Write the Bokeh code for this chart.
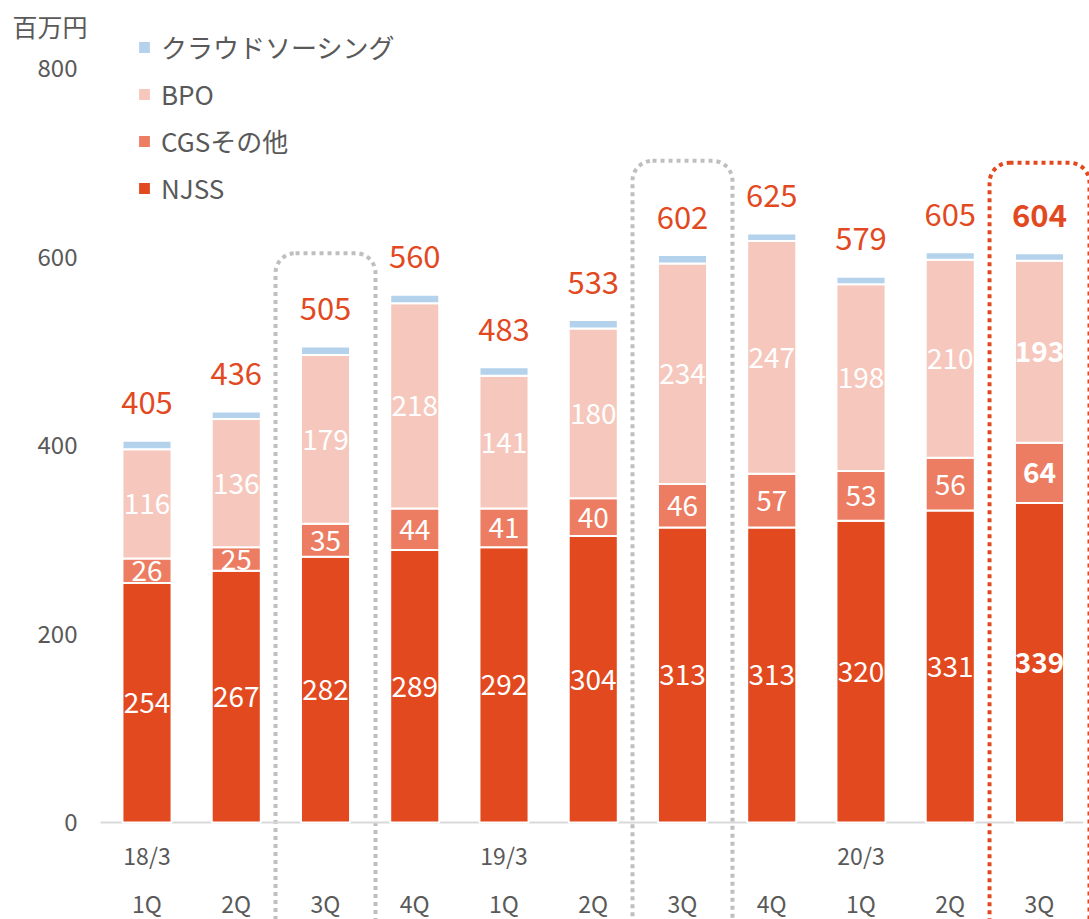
from bokeh.plotting import figure
from bokeh.models import ColumnDataSource, Range1d, FixedTicker, Legend, LegendItem
from bokeh.core.properties import value
from bokeh.embed import file_html
from bokeh.resources import INLINE

# ---- data ----
quarters = ["1Q", "2Q", "3Q", "4Q", "1Q", "2Q", "3Q", "4Q", "1Q", "2Q", "3Q"]
years = ["18/3", "", "", "", "19/3", "", "", "", "20/3", "", ""]
njss = [254, 267, 282, 289, 292, 304, 313, 313, 320, 331, 339]
cgs = [26, 25, 35, 44, 41, 40, 46, 57, 53, 56, 64]
bpo = [116, 136, 179, 218, 141, 180, 234, 247, 198, 210, 193]
crowd = [9, 8, 9, 9, 9, 9, 9, 8, 8, 8, 8]
totals = [405, 436, 505, 560, 483, 533, 602, 625, 579, 605, 604]
series_keys = ["njss", "cgs", "bpo", "crowd"]
series_names = ["NJSS", "CGSその他", "BPO", "クラウドソーシング"]
colors = ["#E2491F", "#EC7D62", "#F6C8BD", "#B4D2EC"]
yticks = [0, 200, 400, 600, 800]
unit_label = "百万円"
highlight_idx = [2, 6, 10]
highlight_top = [604, 702, 700]
highlight_color = ["#BFBFBF", "#BFBFBF", "#E2491F"]

FONT = "Noto Sans CJK JP"
GRAY = "#595959"
RED = "#E2491F"

n = len(quarters)
xs = list(range(n))
bold = ["bold" if i == n - 1 else "normal" for i in xs]

W, H = 1089, 919
PITCH = 89.25            # px per category
X0 = -1.6415             # data x at left canvas edge
X1 = X0 + W / PITCH
AXIS_X = -0.521          # where the value axis / baseline start
Y1 = 872.1
Y0 = Y1 - H / 0.9425

src = ColumnDataSource(dict(x=xs, njss=njss, cgs=cgs, bpo=bpo, crowd=crowd,
                            totals=totals, tot_txt=[str(t) for t in totals],
                            q=quarters, yr=years, style=bold, zero=[0] * n))

p = figure(width=W, height=H, output_backend="svg", toolbar_location=None,
           x_range=Range1d(X0, X1), y_range=Range1d(Y0, Y1),
           min_border_left=0, min_border_right=0, min_border_top=0, min_border_bottom=0)
p.outline_line_color = None
p.grid.visible = False
p.xaxis.visible = False
p.background_fill_color = "white"
p.border_fill_color = "white"

ya = p.yaxis[0]
ya.fixed_location = AXIS_X
ya.ticker = FixedTicker(ticks=yticks)
ya.axis_line_color = None
ya.major_tick_line_color = None
ya.minor_tick_line_color = None
ya.major_tick_out = 0
ya.major_tick_in = 0
ya.major_label_standoff = 23
ya.major_label_text_font = FONT
ya.major_label_text_font_size = "24px"
ya.major_label_text_color = GRAY

# highlight boxes (dotted rounded)
for i, top, c in zip(highlight_idx, highlight_top, highlight_color):
    p.quad(left=i - 0.56, right=i + 0.56, top=top, bottom=Y0 - 100, fill_color=None,
           line_color=c, line_width=4, line_dash="4 4", border_radius=20)

# baseline
p.segment(x0=[AXIS_X], x1=[X1 - 0.07], y0=[0], y1=[0], line_color="#D9D9D9", line_width=2)

# stacked bars
rs = p.vbar_stack(series_keys, x="x", width=0.55, color=colors, line_color="white",
                  line_width=2, source=src)

# segment labels
bottoms = [0] * n
for vals in (njss, cgs, bpo):
    centers = [b + v / 2 for b, v in zip(bottoms, vals)]
    s = ColumnDataSource(dict(x=xs, y=centers, t=[str(v) for v in vals], style=bold))
    p.text(x="x", y="y", text="t", source=s, text_color="white", text_font=value(FONT),
           text_font_size="28px", text_align="center", text_baseline="middle",
           text_font_style="style")
    bottoms = [b + v for b, v in zip(bottoms, vals)]

# totals
p.text(x="x", y="totals", text="tot_txt", source=src, y_offset=-38, text_color=RED,
       text_font=value(FONT), text_font_size="31px", text_align="center",
       text_baseline="middle", text_font_style="style")

# category labels
p.text(x="x", y="zero", text="yr", source=src, y_offset=33, text_color=GRAY,
       text_font=value(FONT), text_font_size="23px", text_align="center",
       text_baseline="middle")
p.text(x="x", y="zero", text="q", source=src, y_offset=81, text_color=GRAY,
       text_font=value(FONT), text_font_size="23px", text_align="center",
       text_baseline="middle")

# unit label (top-left corner)
p.text(x=[X0], y=[Y1], text=[unit_label], x_offset=12, y_offset=25, text_color=GRAY,
       text_font=value(FONT), text_font_size="25px", text_align="left",
       text_baseline="middle")

items = [LegendItem(label=nm, renderers=[r]) for nm, r in zip(series_names, rs)][::-1]
legend = Legend(items=items, location=(136, 713), glyph_width=16, glyph_height=16,
                label_standoff=9, spacing=10, padding=0, margin=0,
                border_line_color=None, background_fill_alpha=0,
                label_text_font=FONT, label_text_font_size="26px", label_text_color=GRAY)
p.add_layout(legend)

open("out.html", "w").write(file_html(p, INLINE))
